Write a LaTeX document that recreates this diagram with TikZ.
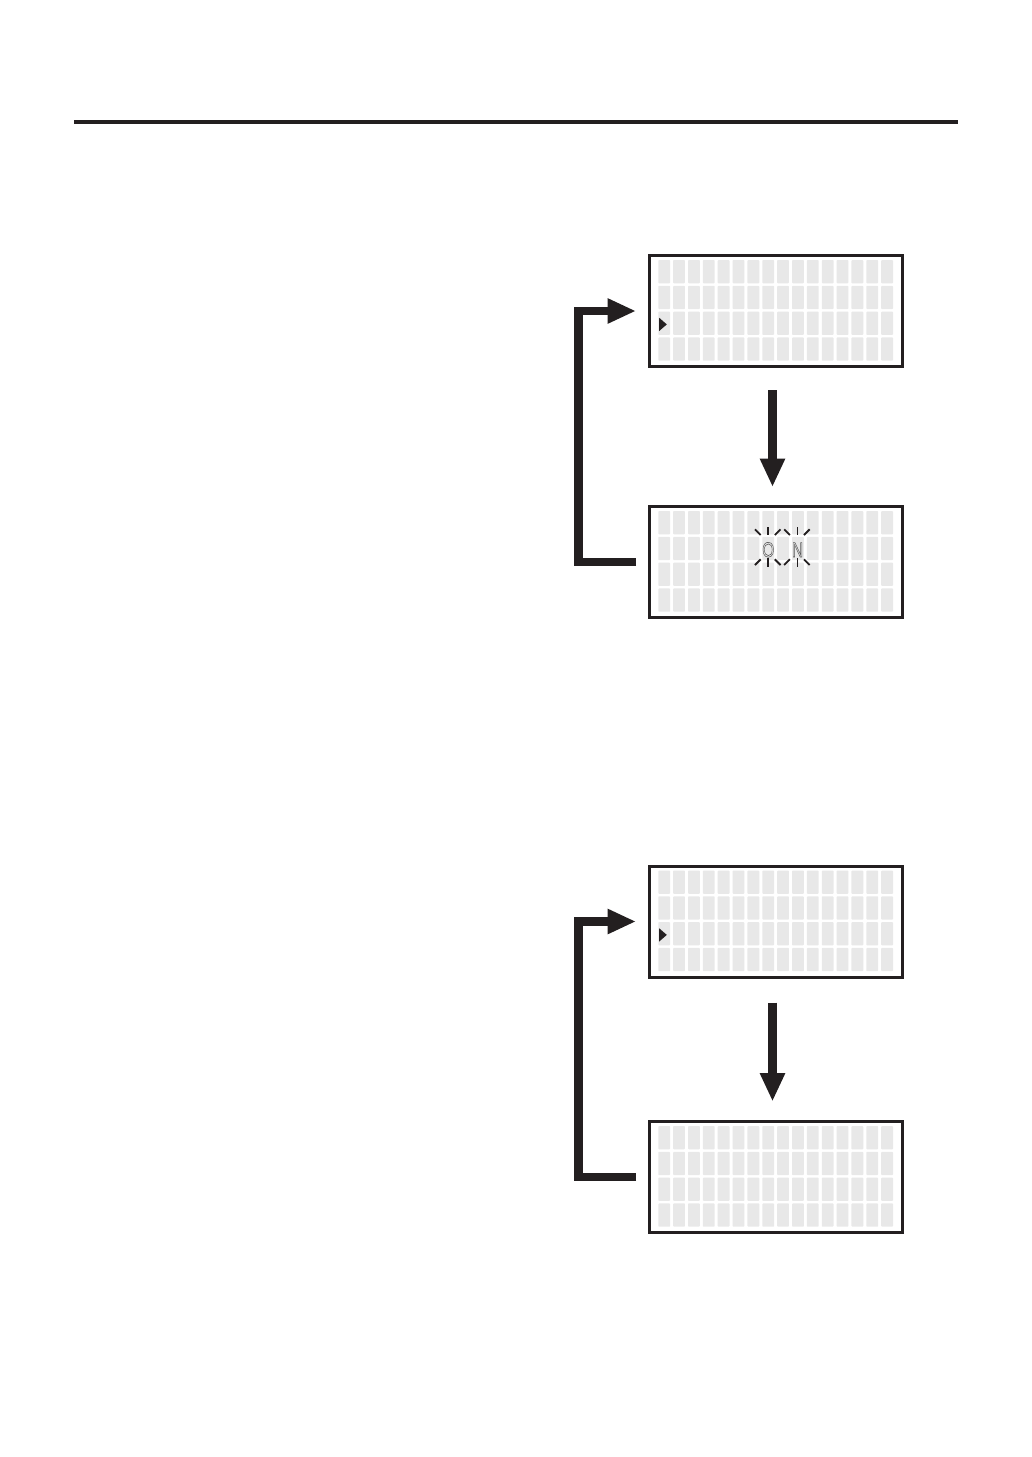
\documentclass[tikz,border=0pt]{standalone}
\usepackage{fontspec}
\newfontfamily\lcdfont{Liberation Sans}
\usetikzlibrary{arrows.meta}
\definecolor{ink}{HTML}{231F20}
\definecolor{cellc}{HTML}{E8E8E8}
\definecolor{lettc}{HTML}{555555}
\tikzset{
  lcd/.style={draw=ink, line width=3pt, minimum width=253pt, minimum height=111pt, inner sep=0pt, outer sep=0pt},
  bigarrow/.style={draw=ink, line width=8.5pt, line join=miter, -{Triangle[length=28.5pt,width=23.5pt]}},
  ray/.style={draw=ink, line width=1.8pt},
  lcdletter/.style={font=\lcdfont\fontsize{21}{21}\selectfont, text=lettc, inner sep=0pt, outer sep=0pt, anchor=base, xscale=0.74, transform shape},
  rule/.style={draw=ink, line width=4pt}
}
\newcommand{\lcdcells}[1]{%
  \begin{scope}[shift={(#1.north west)}]
    \foreach \c in {0,...,15}{
      \foreach \r in {0,...,3}{
        \fill[cellc, rounded corners=0.8pt] (9.3+\c*14.86, 4.5+\r*25.8) rectangle ++(11.8,23.3);
      }
    }
  \end{scope}}
\newcommand{\lcdpointer}[1]{%
  \begin{scope}[shift={(#1.north west)}]
    \fill[ink] (10.2,62.3) -- (10.2,75.5) -- (17.8,68.9) -- cycle;
  \end{scope}}
\newcommand{\outlinetext}[1]{\special{pdf:literal direct 1 Tr 0.6 w}#1\special{pdf:literal direct 0 Tr}}
\begin{document}
\begin{tikzpicture}[x=1pt,y=-1pt]
\useasboundingbox (0,0) rectangle (1032,1457);
\fill[white] (0,0) rectangle (1032,1457);
% top rule
\coordinate (rl) at (74,122);
\coordinate (rr) at (957.5,122);
\draw[rule] (rl) -- (rr);

% upper group
\node[lcd] (b1) at (775.5,311) {};
\node[lcd] (b2) at (775.5,562) {};
\lcdcells{b1}
\lcdcells{b2}
\lcdpointer{b1}
\node[lcdletter] (o) at (768.3,557) {\outlinetext{O}};
\node[lcdletter] (n) at (797.6,557) {\outlinetext{N}};
\foreach \cx in {768.3,797.5}{
  \draw[ray] (\cx-13.3,529.3) -- (\cx-7.6,535);
  \draw[ray] (\cx,527.3) -- (\cx,535);
  \draw[ray] (\cx+6.5,535) -- (\cx+12.2,529.3);
  \draw[ray] (\cx-13.3,565) -- (\cx-7.6,559.3);
  \draw[ray] (\cx,558.3) -- (\cx,566.7);
  \draw[ray] (\cx+6.5,559.3) -- (\cx+12.2,565);
}
\draw[bigarrow, shorten <=23.5pt, shorten >=19.5pt] ([xshift=-3pt]b1.south) -- ([xshift=-3pt]b2.north);
\draw[bigarrow] ([xshift=-13pt]b2.west) -| ([xshift=-70.5pt]b1.west) -- ([xshift=-13pt]b1.west);

% lower group
\node[lcd] (b3) at (775.5,921.5) {};
\node[lcd] (b4) at (775.5,1177) {};
\lcdcells{b3}
\lcdcells{b4}
\lcdpointer{b3}
\draw[bigarrow, shorten <=25.5pt, shorten >=20pt] ([xshift=-3pt]b3.south) -- ([xshift=-3pt]b4.north);
\draw[bigarrow] ([xshift=-13pt]b4.west) -| ([xshift=-70.5pt]b3.west) -- ([xshift=-13pt]b3.west);
\end{tikzpicture}
\end{document}
